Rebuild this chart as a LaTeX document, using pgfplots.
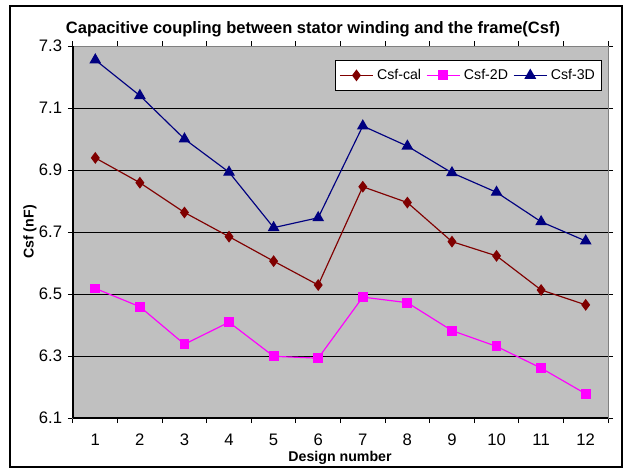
\documentclass[border=0pt]{standalone}
\usepackage{fontspec}
\setmainfont{Liberation Sans}
\usepackage{pgfplots}
\pgfplotsset{compat=1.18}

\definecolor{calred}{RGB}{128,0,0}
\definecolor{twodmag}{RGB}{255,0,255}
\definecolor{threednavy}{RGB}{0,0,128}
\definecolor{plotgray}{RGB}{192,192,192}
\definecolor{edgegray}{RGB}{128,128,128}

\begin{document}
\begin{tikzpicture}
\begin{axis}[
  at={(0pt,0pt)}, anchor=south west,
  scale only axis,
  width=321pt, height=223.2pt,
  xmin=0.5, xmax=12.5,
  ymin=6.1, ymax=7.3,
  xtick={1,...,12},
  minor xtick={0.5,1.5,...,12.5},
  ytick={6.1,6.3,6.5,6.7,6.9,7.1,7.3},
  yticklabel style={/pgf/number format/fixed,/pgf/number format/precision=1,/pgf/number format/fixed zerofill},
  /pgf/number format/assume math mode=true,
  tick align=outside,
  major tick length=3pt,
  minor tick length=3pt,
  major x tick style={draw=none},
  tick style={black, line width=0.6pt},
  ticklabel style={font=\fontsize{10}{11}\selectfont},
  xticklabel style={yshift=-3pt},
  ymajorgrids,
  major grid style={black, line width=0.6pt},
  axis background/.style={fill=plotgray},
  axis line style={edgegray, line width=0.6pt},
  clip=false,
  legend style={
    at={(0.989,0.962)}, anchor=north east,
    legend columns=3,
    draw=black, fill=white, line width=0.6pt,
    font=\fontsize{8.5}{10}\selectfont,
    inner xsep=2pt, inner ysep=3pt,
    /tikz/every even column/.append style={column sep=1pt},
  },
  legend cell align=left,
  legend image code/.code={%
    \draw[mark repeat=2,mark phase=2,#1] plot coordinates {(0pt,0pt) (10pt,0pt) (20pt,0pt)};},
]
% left and bottom spines are black
\draw[black, line width=0.8pt] (rel axis cs:0,0) -- (rel axis cs:0,1);
\draw[black, line width=0.8pt] (rel axis cs:0,0) -- (rel axis cs:1,0);

\addplot[calred, line width=0.7pt, mark=diamond*, mark size=3pt,
  mark options={fill=calred, solid}] coordinates {
  (1,6.939) (2,6.859) (3,6.763) (4,6.685) (5,6.606) (6,6.529)
  (7,6.846) (8,6.795) (9,6.669) (10,6.623) (11,6.513) (12,6.465)};
\addlegendentry{Csf-cal}

\addplot[twodmag, line width=0.7pt, mark=square*, mark size=2.6pt,
  mark options={fill=twodmag, solid}] coordinates {
  (1,6.518) (2,6.459) (3,6.338) (4,6.409) (5,6.299) (6,6.293)
  (7,6.490) (8,6.472) (9,6.382) (10,6.331) (11,6.261) (12,6.178)};
\addlegendentry{Csf-2D}

\addplot[threednavy, line width=0.7pt, mark=triangle*, mark size=3.4pt,
  mark options={fill=threednavy, solid}] coordinates {
  (1,7.255) (2,7.140) (3,7.000) (4,6.893) (5,6.714) (6,6.746)
  (7,7.042) (8,6.977) (9,6.891) (10,6.828) (11,6.733) (12,6.671)};
\addlegendentry{Csf-3D}
\end{axis}

% chart title and axis titles
\node[font=\bfseries\fontsize{9.9}{12}\selectfont] at (144pt,233.4pt)
  {Capacitive coupling between stator winding and the frame(Csf)};
\node[font=\bfseries\fontsize{8.5}{10}\selectfont, rotate=90] at (-25.8pt,111.6pt) {Csf (nF)};
\node[font=\bfseries\fontsize{8.5}{10}\selectfont] at (160.2pt,-24pt) {Design number};

% outer chart frame
\draw[black, line width=0.8pt] (-37.8pt,-29.4pt) rectangle (329.4pt,247.2pt);

\pgfresetboundingbox
\path[use as bounding box] (-43.8pt,-34.2pt) rectangle (331.2pt,250.8pt);
\end{tikzpicture}
\end{document}
